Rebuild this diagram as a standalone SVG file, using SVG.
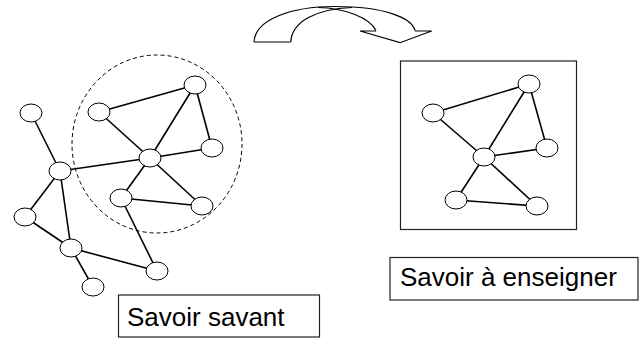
<svg xmlns="http://www.w3.org/2000/svg" width="639" height="338" viewBox="0 0 639 338">
<style>
.e{stroke:#000;stroke-width:1.6;fill:none}
.n{fill:#fff;stroke:#000;stroke-width:1}
.box{fill:#fff;stroke:#222;stroke-width:1.2}
.t{font-family:"Liberation Sans",Arial,sans-serif;font-size:26px;fill:#000}
.ar{fill:none;stroke:#000;stroke-width:1.2;stroke-linejoin:miter}
</style>
<rect width="639" height="338" fill="#fff"/>
<g id="transform-arrow">
<path class="ar" d="M254,42 C255,20 290,6.5 335,6.5 C385,6.5 412,18 415,30.5"/>
<path class="ar" d="M290.7,42 C292,22 315,9 352,7.5"/>
<path class="ar" d="M318,7.5 C345,8 370,18 376,30.5"/>
<path class="ar" d="M376,31 L360,31 L400,42.7 L431.7,31 L415,31"/>
<path class="ar" d="M254,42 L290.7,42"/>
</g>
<g id="cluster">
<ellipse cx="157" cy="144" rx="85" ry="89" fill="none" stroke="#000" stroke-width="1" stroke-dasharray="4,3"/>
</g>
<g id="right-frame">
<rect class="box" x="400.5" y="61" width="176" height="168.5"/>
</g>
<g id="connectors">
<line class="e" x1="31" y1="113" x2="60" y2="171"/>
<line class="e" x1="60" y1="171" x2="25" y2="217"/>
<line class="e" x1="60" y1="171" x2="71" y2="248"/>
<line class="e" x1="25" y1="217" x2="71" y2="248"/>
<line class="e" x1="71" y1="248" x2="93" y2="287"/>
<line class="e" x1="71" y1="248" x2="157" y2="271"/>
<line class="e" x1="157" y1="271" x2="121" y2="198"/>
<line class="e" x1="121" y1="198" x2="150" y2="158"/>
<line class="e" x1="121" y1="198" x2="202" y2="206"/>
<line class="e" x1="150" y1="158" x2="202" y2="206"/>
<line class="e" x1="150" y1="158" x2="99" y2="112"/>
<line class="e" x1="150" y1="158" x2="195" y2="85"/>
<line class="e" x1="150" y1="158" x2="212" y2="148"/>
<line class="e" x1="195" y1="85" x2="212" y2="148"/>
<line class="e" x1="99" y1="112" x2="195" y2="85"/>
<line class="e" x1="60" y1="171" x2="150" y2="158"/>
<line class="e" x1="433" y1="113" x2="529" y2="84"/>
<line class="e" x1="433" y1="113" x2="484" y2="157"/>
<line class="e" x1="529" y1="84" x2="484" y2="157"/>
<line class="e" x1="529" y1="84" x2="547" y2="148"/>
<line class="e" x1="484" y1="157" x2="547" y2="148"/>
<line class="e" x1="484" y1="157" x2="456" y2="200"/>
<line class="e" x1="484" y1="157" x2="537" y2="206"/>
<line class="e" x1="456" y1="200" x2="537" y2="206"/>
</g>
<g id="n-a"><ellipse class="n" cx="31" cy="113" rx="11" ry="9"/></g>
<g id="n-b"><ellipse class="n" cx="60" cy="171" rx="11" ry="9"/></g>
<g id="n-c"><ellipse class="n" cx="25" cy="217" rx="11" ry="9"/></g>
<g id="n-d"><ellipse class="n" cx="71" cy="248" rx="11" ry="9"/></g>
<g id="n-e"><ellipse class="n" cx="93" cy="287" rx="11" ry="9"/></g>
<g id="n-f"><ellipse class="n" cx="157" cy="271" rx="11" ry="9"/></g>
<g id="n-g"><ellipse class="n" cx="99" cy="112" rx="11" ry="9"/></g>
<g id="n-h"><ellipse class="n" cx="195" cy="85" rx="11" ry="9"/></g>
<g id="n-i"><ellipse class="n" cx="150" cy="158" rx="11" ry="9"/></g>
<g id="n-j"><ellipse class="n" cx="212" cy="148" rx="11" ry="9"/></g>
<g id="n-k"><ellipse class="n" cx="121" cy="198" rx="11" ry="9"/></g>
<g id="n-l"><ellipse class="n" cx="202" cy="206" rx="11" ry="9"/></g>
<g id="m-a"><ellipse class="n" cx="433" cy="113" rx="11" ry="9"/></g>
<g id="m-b"><ellipse class="n" cx="529" cy="84" rx="11" ry="9"/></g>
<g id="m-c"><ellipse class="n" cx="484" cy="157" rx="11" ry="9"/></g>
<g id="m-d"><ellipse class="n" cx="547" cy="148" rx="11" ry="9"/></g>
<g id="m-e"><ellipse class="n" cx="456" cy="200" rx="11" ry="9"/></g>
<g id="m-f"><ellipse class="n" cx="537" cy="206" rx="11" ry="9"/></g>
<g id="label-savant">
<rect class="box" x="118.5" y="295" width="201" height="42"/>
<text class="t" x="127" y="326">Savoir savant</text>
</g>
<g id="label-enseigner">
<rect class="box" x="390" y="257.5" width="248" height="42.5"/>
<text class="t" x="400" y="286">Savoir à enseigner</text>
</g>
</svg>
